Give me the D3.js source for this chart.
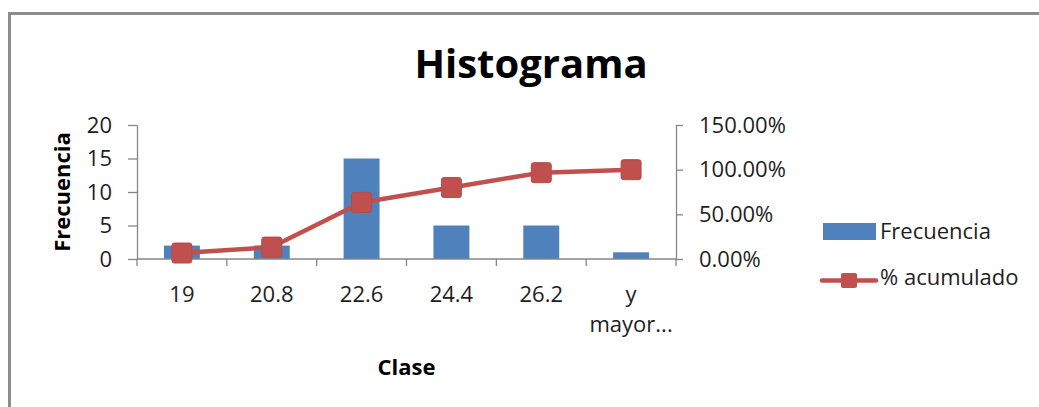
<!DOCTYPE html>
<html>
<head>
<meta charset="utf-8">
<script src="https://cdn.jsdelivr.net/npm/d3@7"></script>
<style>
  html, body { margin: 0; padding: 0; background: #fff; }
  svg { display: block; font-family: 'Open Sans', sans-serif; }
</style>
</head>
<body>
<div id="chart_area"></div>
<script>
// data
const categories = ['19', '20.8', '22.6', '24.4', '26.2', 'y mayor...'];
const frecuencia = [2, 2, 15, 5, 5, 1];
const acumulado = [0.0667, 0.1333, 0.6333, 0.80, 0.9667, 1.00];
const leftTicks = [0, 5, 10, 15, 20];
const rightTicks = [0, 0.5, 1, 1.5];

const W = 1039, H = 407;
const plot = { left: 137, right: 676, top: 125, bottom: 259 };
const barColor = '#4F81BD';
const lineColor = '#C0504D';
const axisColor = '#868686';
const textColor = '#1e1e1e';

const svg = d3.select('#chart_area').append('svg')
  .attr('width', W).attr('height', H);

// outer chart frame (runs off the right and bottom edge)
svg.append('rect')
  .attr('x', 9.5).attr('y', 13.5)
  .attr('width', 1200).attr('height', 600)
  .attr('fill', '#fff')
  .attr('stroke', '#8c8c8c').attr('stroke-width', 3);

// title
svg.append('text')
  .attr('x', 531).attr('y', 78)
  .attr('text-anchor', 'middle')
  .attr('font-size', 40).attr('font-weight', 'bold')
  .attr('fill', '#000')
  .text('Histograma');

// scales
const xOuter = d3.scaleBand().domain(categories)
  .range([plot.left, plot.right]).padding(0);
const xBar = d3.scaleBand().domain(categories)
  .range([plot.left, plot.right]).paddingInner(0.6).paddingOuter(0.3);
const yL = d3.scaleLinear().domain([0, 20]).range([plot.bottom, plot.top]);
const yR = d3.scaleLinear().domain([0, 1.5]).range([plot.bottom, plot.top]);

// bars
svg.append('g').selectAll('rect')
  .data(frecuencia)
  .join('rect')
  .attr('x', (d, i) => xBar(categories[i]))
  .attr('y', d => yL(d))
  .attr('width', xBar.bandwidth())
  .attr('height', d => yL(0) - yL(d))
  .attr('fill', barColor);

// left axis
const gL = svg.append('g')
  .attr('transform', `translate(${plot.left},0)`)
  .call(d3.axisLeft(yL).tickValues(leftTicks).tickSize(9).tickSizeOuter(0).tickPadding(16));

// right axis
const gR = svg.append('g')
  .attr('transform', `translate(${plot.right},0)`)
  .call(d3.axisRight(yR).tickValues(rightTicks).tickSize(7).tickSizeOuter(0).tickPadding(16)
    .tickFormat(d => (d * 100).toFixed(2) + '%'));

[gL, gR].forEach(g => {
  g.select('.domain').attr('stroke', axisColor).attr('stroke-width', 1.3);
  g.selectAll('.tick line').attr('stroke', axisColor).attr('stroke-width', 1.3);
  g.selectAll('.tick text')
    .attr('font-size', 22).attr('fill', textColor)
    .attr('font-family', "'Open Sans', sans-serif");
});

// bottom axis: line along 0 with ticks at the category boundaries
const gB = svg.append('g');
gB.append('line')
  .attr('x1', plot.left).attr('x2', plot.right)
  .attr('y1', plot.bottom).attr('y2', plot.bottom)
  .attr('stroke', axisColor).attr('stroke-width', 1.3);
const bounds = categories.map(c => xOuter(c)).concat([plot.right]);
gB.selectAll('line.tk')
  .data(bounds)
  .join('line')
  .attr('class', 'tk')
  .attr('x1', d => d).attr('x2', d => d)
  .attr('y1', plot.bottom).attr('y2', plot.bottom + 7)
  .attr('stroke', axisColor).attr('stroke-width', 1.3);
const catText = gB.selectAll('text.cat')
  .data(categories)
  .join('text')
  .attr('class', 'cat')
  .attr('x', d => xOuter(d) + xOuter.bandwidth() / 2)
  .attr('y', 302)
  .attr('text-anchor', 'middle')
  .attr('font-size', 22).attr('fill', textColor);
catText.each(function (d) {
  const t = d3.select(this);
  d.split(' ').forEach((w, k) => {
    t.append('tspan')
      .attr('x', xOuter(d) + xOuter.bandwidth() / 2)
      .attr('dy', k === 0 ? 0 : 30)
      .text(w);
  });
});

// cumulative line
const line = d3.line()
  .x((d, i) => xOuter(categories[i]) + xOuter.bandwidth() / 2)
  .y(d => yR(d));
svg.append('path')
  .datum(acumulado)
  .attr('d', line)
  .attr('fill', 'none')
  .attr('stroke', lineColor)
  .attr('stroke-width', 4.5)
  .attr('stroke-linejoin', 'round');
svg.append('g').selectAll('rect')
  .data(acumulado)
  .join('rect')
  .attr('x', (d, i) => xOuter(categories[i]) + xOuter.bandwidth() / 2 - 10)
  .attr('y', d => yR(d) - 10)
  .attr('width', 20).attr('height', 20)
  .attr('rx', 2.5)
  .attr('fill', lineColor)
  .attr('stroke', '#b94a47').attr('stroke-width', 1);

// axis titles
svg.append('text')
  .attr('transform', 'translate(70,192) rotate(-90)')
  .attr('text-anchor', 'middle')
  .attr('font-size', 22).attr('font-weight', 'bold')
  .attr('fill', '#000')
  .text('Frecuencia');
svg.append('text')
  .attr('x', (plot.left + plot.right) / 2).attr('y', 375)
  .attr('text-anchor', 'middle')
  .attr('font-size', 22).attr('font-weight', 'bold')
  .attr('fill', '#000')
  .text('Clase');

// legend
const legend = svg.append('g');
legend.append('rect')
  .attr('x', 823).attr('y', 223).attr('width', 53).attr('height', 17)
  .attr('fill', barColor);
legend.append('text')
  .attr('x', 880).attr('y', 239)
  .attr('font-size', 22).attr('fill', textColor)
  .text('Frecuencia');
legend.append('line')
  .attr('x1', 822).attr('x2', 876).attr('y1', 280.5).attr('y2', 280.5)
  .attr('stroke', lineColor).attr('stroke-width', 4.5).attr('stroke-linecap', 'round');
legend.append('rect')
  .attr('x', 841).attr('y', 273).attr('width', 16).attr('height', 15)
  .attr('rx', 2)
  .attr('fill', lineColor);
legend.append('text')
  .attr('x', 880).attr('y', 285)
  .attr('font-size', 22).attr('fill', textColor)
  .text('% acumulado');
</script>
</body>
</html>
